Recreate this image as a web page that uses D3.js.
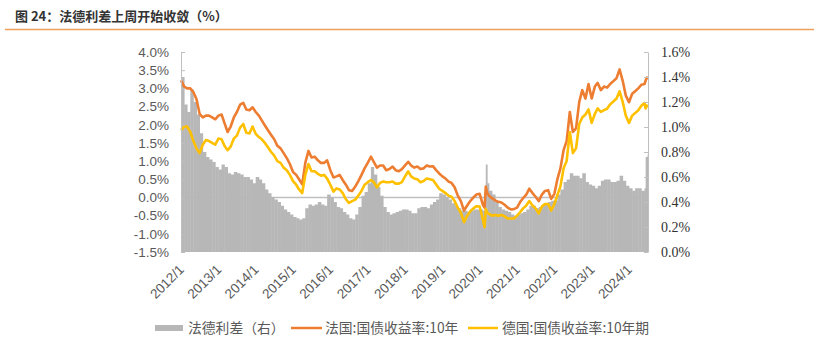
<!DOCTYPE html>
<html><head><meta charset="utf-8">
<script src="https://cdn.jsdelivr.net/npm/d3@7"></script>
<style>body{margin:0;background:#fff}</style>
</head><body>
<svg id="c" width="819" height="355"></svg>
<script>
// ---- data ----
const dates = [
"2012-01","2012-02","2012-03","2012-04","2012-05","2012-06","2012-07","2012-08","2012-09","2012-10","2012-11","2012-12",
"2013-01","2013-02","2013-03","2013-04","2013-05","2013-06","2013-07","2013-08","2013-09","2013-10","2013-11","2013-12",
"2014-01","2014-02","2014-03","2014-04","2014-05","2014-06","2014-07","2014-08","2014-09","2014-10","2014-11","2014-12",
"2015-01","2015-02","2015-03","2015-04","2015-05","2015-06","2015-07","2015-08","2015-09","2015-10","2015-11","2015-12",
"2016-01","2016-02","2016-03","2016-04","2016-05","2016-06","2016-07","2016-08","2016-09","2016-10","2016-11","2016-12",
"2017-01","2017-02","2017-03","2017-04","2017-05","2017-06","2017-07","2017-08","2017-09","2017-10","2017-11","2017-12",
"2018-01","2018-02","2018-03","2018-04","2018-05","2018-06","2018-07","2018-08","2018-09","2018-10","2018-11","2018-12",
"2019-01","2019-02","2019-03","2019-04","2019-05","2019-06","2019-07","2019-08","2019-09","2019-10","2019-11","2019-12",
"2020-01","2020-02","2020-02-18","2020-03","2020-03-15","2020-04","2020-05","2020-06","2020-07","2020-08","2020-09","2020-10","2020-11","2020-12",
"2021-01","2021-02","2021-03","2021-04","2021-05","2021-06","2021-07","2021-08","2021-09","2021-10","2021-11","2021-12",
"2022-01","2022-02","2022-03","2022-04","2022-05","2022-06","2022-07","2022-08","2022-09","2022-10","2022-11","2022-12",
"2023-01","2023-02","2023-03","2023-04","2023-05","2023-06","2023-07","2023-08","2023-09","2023-10","2023-11","2023-12",
"2024-01","2024-02","2024-03","2024-04","2024-05","2024-06","2024-06-12","2024-07"
];
const france = [
3.22,3.05,3.00,3.00,2.90,2.70,2.30,2.20,2.25,2.25,2.20,2.15,
2.25,2.28,2.05,1.80,1.95,2.20,2.35,2.55,2.60,2.42,2.40,2.48,
2.35,2.25,2.12,1.98,1.85,1.72,1.60,1.42,1.35,1.22,1.08,0.92,
0.70,0.62,0.50,0.36,0.95,1.28,1.10,1.12,1.02,0.95,0.95,1.02,
0.75,0.55,0.58,0.62,0.48,0.35,0.20,0.18,0.30,0.45,0.62,0.80,
0.95,1.12,0.98,0.82,0.88,0.88,0.75,0.78,0.85,0.75,0.72,0.78,
0.88,0.98,0.88,0.82,0.85,0.78,0.80,0.88,0.85,0.86,0.75,0.66,
0.58,0.52,0.44,0.40,0.28,0.05,-0.10,-0.36,-0.22,-0.10,0.00,0.08,
0.10,-0.20,-0.28,0.30,0.12,0.05,-0.02,-0.08,-0.12,-0.14,-0.20,-0.28,-0.33,-0.32,
-0.28,-0.12,-0.02,0.08,0.24,0.12,0.02,-0.10,0.08,0.18,0.20,-0.04,
0.10,0.52,0.80,1.30,1.55,2.35,1.80,1.90,2.62,2.95,2.72,3.12,
2.72,3.05,3.15,2.95,3.05,3.02,3.12,3.20,3.28,3.52,3.20,2.80,
2.62,2.85,2.92,3.00,3.10,3.12,3.22,3.32
];
const germany = [
1.85,1.95,1.95,1.80,1.55,1.35,1.22,1.45,1.58,1.55,1.50,1.45,
1.62,1.60,1.42,1.30,1.40,1.62,1.70,1.92,2.02,1.78,1.76,1.95,
1.75,1.66,1.60,1.50,1.38,1.25,1.15,1.00,0.95,0.82,0.75,0.62,
0.45,0.35,0.22,0.12,0.62,0.92,0.72,0.72,0.65,0.60,0.62,0.52,
0.35,0.16,0.25,0.22,0.12,-0.05,-0.15,-0.10,-0.06,0.05,0.18,0.35,
0.42,0.48,0.42,0.28,0.40,0.44,0.42,0.42,0.44,0.38,0.38,0.42,
0.58,0.72,0.58,0.52,0.50,0.42,0.45,0.52,0.50,0.48,0.36,0.24,
0.18,0.12,0.05,0.02,-0.10,-0.28,-0.42,-0.68,-0.50,-0.38,-0.30,-0.24,
-0.25,-0.60,-0.82,-0.32,-0.42,-0.45,-0.50,-0.48,-0.50,-0.48,-0.52,-0.58,-0.58,-0.58,
-0.50,-0.40,-0.30,-0.22,-0.10,-0.22,-0.30,-0.44,-0.25,-0.18,-0.18,-0.36,
-0.18,0.08,0.30,0.80,1.00,1.80,1.22,1.35,2.02,2.20,2.28,2.42,
2.05,2.30,2.45,2.35,2.40,2.44,2.56,2.64,2.72,2.92,2.62,2.25,
2.05,2.25,2.32,2.40,2.52,2.60,2.45,2.55
];
const spread = [
1.40,1.18,1.12,1.30,1.20,1.10,0.95,0.80,0.76,0.74,0.72,0.68,
0.66,0.70,0.68,0.63,0.62,0.64,0.63,0.62,0.60,0.60,0.58,0.55,
0.60,0.58,0.55,0.50,0.47,0.44,0.42,0.40,0.37,0.34,0.32,0.30,
0.28,0.27,0.26,0.27,0.35,0.38,0.37,0.38,0.40,0.38,0.37,0.46,
0.44,0.40,0.36,0.35,0.32,0.30,0.27,0.26,0.30,0.36,0.45,0.48,
0.55,0.68,0.62,0.52,0.45,0.36,0.32,0.30,0.31,0.32,0.33,0.34,
0.34,0.33,0.31,0.31,0.35,0.36,0.36,0.35,0.38,0.40,0.42,0.47,
0.46,0.44,0.42,0.39,0.37,0.35,0.33,0.33,0.32,0.33,0.34,0.34,
0.34,0.33,0.35,0.70,0.55,0.49,0.46,0.40,0.36,0.34,0.33,0.32,0.30,0.29,
0.30,0.31,0.32,0.34,0.37,0.37,0.35,0.36,0.37,0.39,0.40,0.41,
0.41,0.46,0.50,0.56,0.58,0.63,0.61,0.61,0.59,0.63,0.56,0.54,
0.53,0.51,0.53,0.57,0.58,0.58,0.56,0.56,0.57,0.61,0.57,0.53,
0.51,0.49,0.51,0.51,0.49,0.51,0.76,0.78
];
const leftTicks = [4.0,3.5,3.0,2.5,2.0,1.5,1.0,0.5,0.0,-0.5,-1.0,-1.5];
const rightTicks = [1.6,1.4,1.2,1.0,0.8,0.6,0.4,0.2,0.0];
const xTickLabels = ["2012/1","2013/1","2014/1","2015/1","2016/1","2017/1","2018/1","2019/1","2020/1","2021/1","2022/1","2023/1","2024/1"];
const legendNames = ["法德利差（右）","法国:国债收益率:10年","德国:国债收益率:10年期"];
const titleText = "图 24：法德利差上周开始收敛（%）";

// ---- chart ----
const pm = d3.timeParse("%Y-%m"), pd = d3.timeParse("%Y-%m-%d");
const parse = s => pd(s) || pm(s);
const T = dates.map(parse);
const endDate = new Date(2024,6,5);

const L=181, R=648, TOP=52, BOT=252;
const svg = d3.select("#c");
const x = d3.scaleTime().domain([new Date(2012,0,1), endDate]).range([L,R]);
const yL = d3.scaleLinear().domain([-1.5,4]).range([BOT,TOP]);
const yR = d3.scaleLinear().domain([0,1.6]).range([BOT,TOP]);

// title
svg.append("text").attr("x",15).attr("y",21).text(titleText)
  .attr("font-family","'Noto Sans CJK SC',sans-serif").attr("font-weight","bold")
  .attr("font-size",13).attr("fill","#333");
svg.append("line").attr("x1",5).attr("x2",814).attr("y1",29.5).attr("y2",29.5)
  .attr("stroke","#F0A05A").attr("stroke-width",1.5);

// zero line of left axis
svg.append("line").attr("x1",L).attr("x2",R).attr("y1",yL(0)).attr("y2",yL(0))
  .attr("stroke","#BFBFBF").attr("stroke-width",1.5);

// spread bars (right axis)
svg.append("g").selectAll("rect").data(spread).join("rect")
  .attr("x",(d,i)=>x(T[i]))
  .attr("width",(d,i)=>Math.max(0.5,(i<T.length-1?x(T[i+1]):R)-x(T[i]))+0.4)
  .attr("y",d=>yR(d)).attr("height",d=>yR(0)-yR(d))
  .attr("fill","#B7B7B7");

// lines
const lineL = d3.line().x((d,i)=>x(T[i])).y(d=>yL(d));
svg.append("path").attr("d",lineL(france)).attr("fill","none")
  .attr("stroke","#ED7D31").attr("stroke-width",2.6).attr("stroke-linejoin","round");
svg.append("path").attr("d",lineL(germany)).attr("fill","none")
  .attr("stroke","#FFC000").attr("stroke-width",2.6).attr("stroke-linejoin","round");

// left axis
const gl = svg.append("g").attr("transform",`translate(${L},0)`)
  .call(d3.axisLeft(yL).tickValues(leftTicks).tickSizeInner(-4).tickSizeOuter(0).tickPadding(12)
  .tickFormat(d=>d.toFixed(1)+"%"));
gl.select(".domain").attr("stroke","#BFBFBF");
gl.selectAll(".tick line").attr("stroke","#BFBFBF");
gl.selectAll("text").attr("font-family","'Liberation Sans',Arial,sans-serif").attr("font-size",13.5).attr("fill","#595959");

// right axis
const gr = svg.append("g").attr("transform",`translate(${R},0)`)
  .call(d3.axisRight(yR).tickValues(rightTicks).tickSizeInner(-4).tickSizeOuter(0).tickPadding(13)
  .tickFormat(d=>d.toFixed(1)+"%"));
gr.select(".domain").attr("stroke","#BFBFBF");
gr.selectAll(".tick line").attr("stroke","#BFBFBF");
gr.selectAll("text").attr("font-family","'Liberation Serif','Times New Roman',serif").attr("font-size",14).attr("fill","#333");

// x axis
const xTickDates = xTickLabels.map(s=>{const [yy,mm]=s.split("/");return new Date(+yy,+mm-1,1);});
const gx = svg.append("g").attr("transform",`translate(0,${BOT})`)
  .call(d3.axisBottom(x).tickValues(xTickDates).tickSize(0).tickFormat((d,i)=>xTickLabels[i]));
gx.select(".domain").remove();
gx.selectAll("text").attr("y",0).attr("dy","0.35em").attr("x",0)
  .attr("transform","translate(0,15) rotate(-45)").style("text-anchor","end")
  .attr("font-family","'Liberation Sans',Arial,sans-serif").attr("font-size",13.5).attr("fill","#595959");

// legend
const lg = svg.append("g").attr("font-family","'Noto Sans CJK SC',sans-serif").attr("font-size",13.8).attr("fill","#595959");
lg.append("rect").attr("x",155).attr("y",325).attr("width",28).attr("height",6).attr("fill","#B7B7B7");
lg.append("text").attr("x",188).attr("y",329).attr("dominant-baseline","middle").text(legendNames[0]);
lg.append("line").attr("x1",291).attr("x2",322).attr("y1",328).attr("y2",328).attr("stroke","#ED7D31").attr("stroke-width",2.5);
lg.append("text").attr("x",325).attr("y",329).attr("dominant-baseline","middle").text(legendNames[1]);
lg.append("line").attr("x1",468).attr("x2",498).attr("y1",328).attr("y2",328).attr("stroke","#FFC000").attr("stroke-width",2.5);
lg.append("text").attr("x",502).attr("y",329).attr("dominant-baseline","middle").text(legendNames[2]);
</script>
</body></html>
